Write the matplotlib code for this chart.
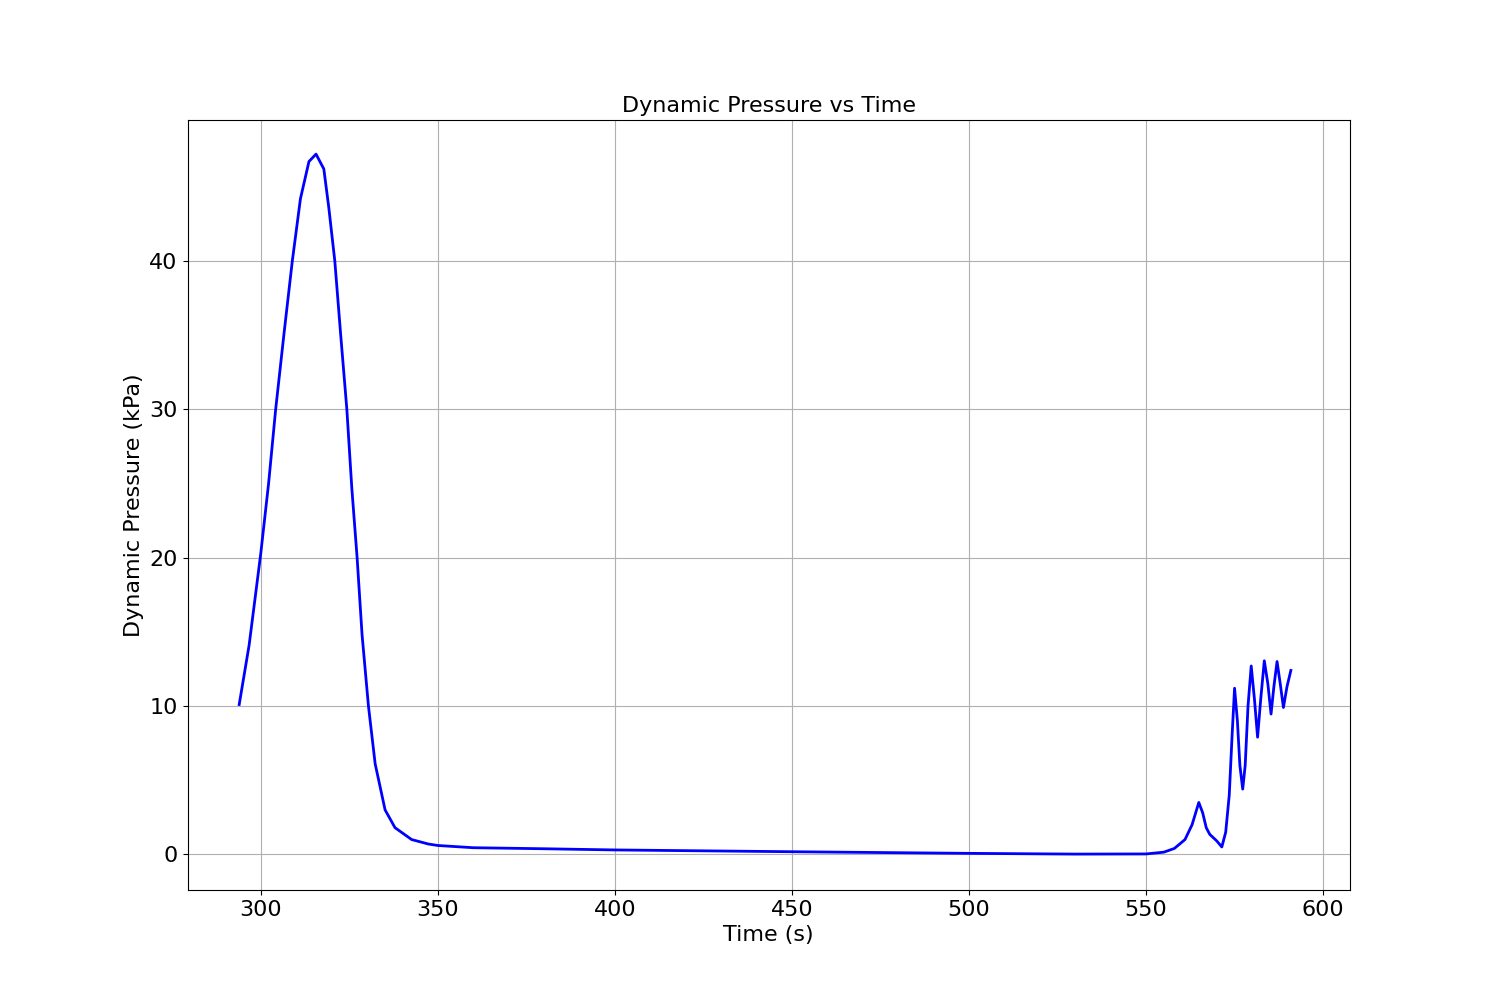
import matplotlib
matplotlib.use("Agg")
import matplotlib.pyplot as plt

time_s = [293.9, 296.7, 300.0, 302.2, 304.2, 306.6, 308.9, 311.2, 313.6, 315.6, 317.8,
          319.2, 320.9, 322.5, 324.3, 325.7, 327.2, 328.6, 330.4, 332.3, 335.1, 337.9,
          342.6, 347.3, 350, 360, 380, 400, 450, 500, 530, 550, 555, 558, 561, 563,
          564.9, 566, 567, 568, 570, 571.4, 572.5, 573.5, 574.3, 575.0, 575.8, 576.5,
          577.3, 578.0, 578.8, 579.7, 580.6, 581.5, 582.4, 583.4, 584.4, 585.3, 586.1,
          587.0, 587.9, 588.8, 589.8, 590.9]
pressure_kpa = [10.1, 14.1, 20.3, 25.0, 30.0, 35.2, 40.0, 44.2, 46.7, 47.2, 46.2,
                43.6, 40.0, 35.2, 30.0, 24.7, 20.0, 14.8, 10.0, 6.1, 3.0, 1.8,
                1.0, 0.7, 0.6, 0.45, 0.38, 0.3, 0.18, 0.07, 0.02, 0.03, 0.15, 0.4, 1.0, 2.0,
                3.5, 2.8, 1.8, 1.35, 0.9, 0.5, 1.5, 4.0, 8.0, 11.2, 9.0, 6.0,
                4.4, 6.0, 10.0, 12.7, 10.5, 7.9, 10.5, 13.05, 11.5, 9.46, 11.3,
                13.0, 11.5, 9.9, 11.3, 12.4]

fig, ax = plt.subplots(figsize=(15, 10), dpi=100)
ax.plot(time_s, pressure_kpa, color="blue", linewidth=2)
ax.set_title("Dynamic Pressure vs Time", fontsize=16)
ax.set_xlabel("Time (s)", fontsize=16)
ax.set_ylabel("Dynamic Pressure (kPa)", fontsize=16)
ax.tick_params(labelsize=16)
ax.grid(True)
ax.set_xlim(279.3, 607.6)
ax.set_ylim(-2.4, 49.5)
fig.savefig("out.png")
